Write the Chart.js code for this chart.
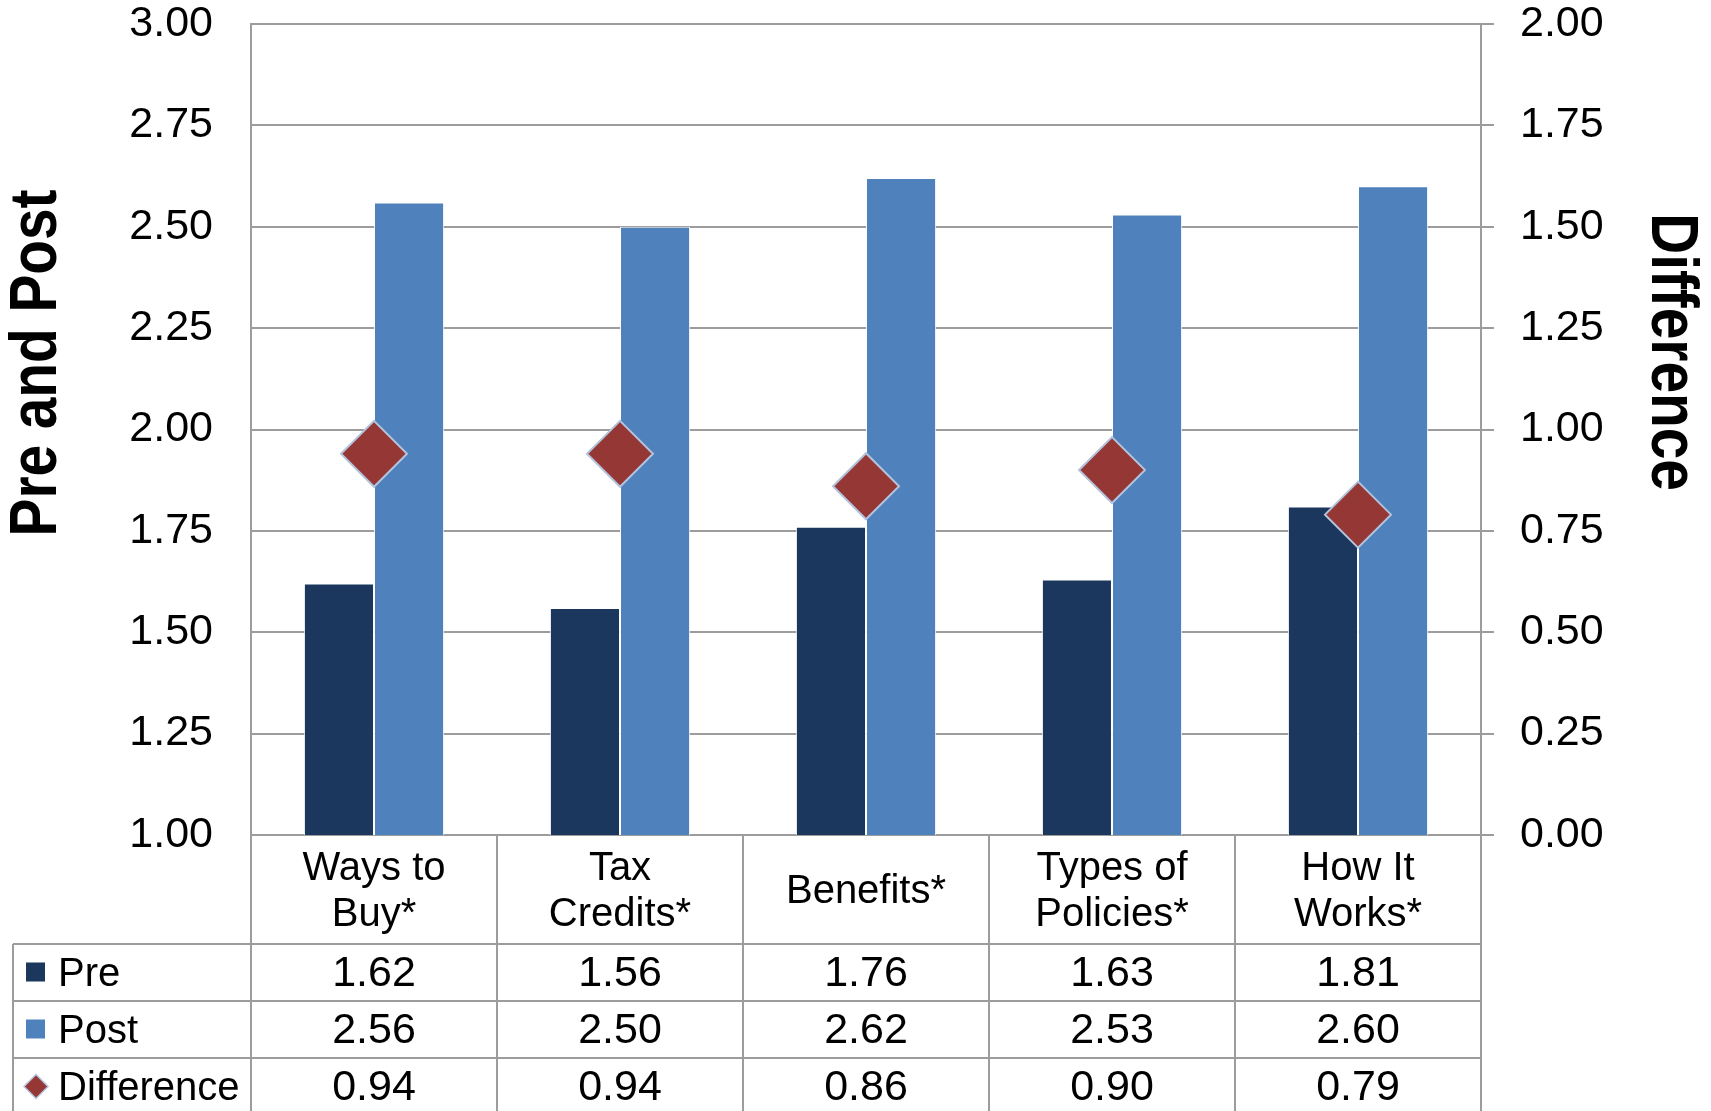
<!DOCTYPE html>
<html>
<head>
<meta charset="utf-8">
<script src="https://cdn.jsdelivr.net/npm/chart.js@4/dist/chart.umd.min.js"></script>
<style>
  html, body { margin: 0; padding: 0; background: #fff; }
  #wrap { width: 1711px; height: 1111px; }
</style>
</head>
<body>
<div id="wrap"><canvas id="chart" width="1711" height="1111"></canvas></div>
<script>
// Data
const categories = [['Ways to', 'Buy*'], ['Tax', 'Credits*'], ['Benefits*'], ['Types of', 'Policies*'], ['How It', 'Works*']];
const preValues = [1.62, 1.56, 1.76, 1.63, 1.81];
const postValues = [2.56, 2.50, 2.62, 2.53, 2.60];
const diffValues = [0.94, 0.94, 0.86, 0.90, 0.79];
const leftAxisTitle = 'Pre and Post';
const rightAxisTitle = 'Difference';

// Colours
const colors = {
    pre: '#1b375e',
    post: '#4f81bd',
    diff: '#953735',
    diffBorder: '#b3c3dc',
    grid: '#9c9c9c',
    text: '#000000'
};

const fontFamily = "'Liberation Sans', Arial, sans-serif";
const labelSize = 43;
const wordSize = 40;

// Rows shown in the data table under the chart
const tableRows = [
    { label: 'Pre', values: preValues, marker: 'square', color: colors.pre },
    { label: 'Post', values: postValues, marker: 'square', color: colors.post },
    { label: 'Difference', values: diffValues, marker: 'diamond', color: colors.diff }
];

// rotated, slightly narrowed axis title
function drawAxisTitle(ctx, text, x, y, angle) {
    ctx.save();
    ctx.translate(x, y);
    ctx.rotate(angle);
    ctx.scale(0.86, 1);
    ctx.fillText(text, 0, 0);
    ctx.restore();
}

// Draws axis titles and the Excel-style data table
const tablePlugin = {
    id: 'dataTable',
    afterDraw(chart) {
        const ctx = chart.ctx;
        const area = chart.chartArea;
        const xScale = chart.scales.x;
        const n = categories.length;
        const colW = (area.right - area.left) / n;
        const rowY = [area.bottom, 944, 1001, 1058, chart.height + 4];
        const labelLeft = 13;

        ctx.save();
        ctx.strokeStyle = colors.grid;
        ctx.lineWidth = 2;

        // horizontal lines
        ctx.beginPath();
        for (let r = 1; r < rowY.length - 1; r++) {
            ctx.moveTo(labelLeft, rowY[r]);
            ctx.lineTo(area.right, rowY[r]);
        }
        // vertical lines
        for (let i = 0; i <= n; i++) {
            const x = area.left + i * colW;
            ctx.moveTo(x, rowY[0]);
            ctx.lineTo(x, chart.height);
        }
        ctx.moveTo(labelLeft, rowY[1]);
        ctx.lineTo(labelLeft, chart.height);
        ctx.stroke();

        ctx.fillStyle = colors.text;
        ctx.font = wordSize + 'px ' + fontFamily;
        ctx.textAlign = 'center';
        ctx.textBaseline = 'middle';

        // category labels
        const catMid = (rowY[0] + rowY[1]) / 2;
        const lineH = 46;
        categories.forEach((lines, i) => {
            const cx = xScale.getPixelForValue(i);
            const y0 = catMid - (lines.length - 1) * lineH / 2;
            lines.forEach((t, k) => ctx.fillText(t, cx, y0 + k * lineH + 2));
        });

        // series rows
        tableRows.forEach((row, r) => {
            const mid = (rowY[r + 1] + rowY[r + 2]) / 2;
            ctx.fillStyle = colors.text;
            ctx.textAlign = 'center';
            ctx.font = labelSize + 'px ' + fontFamily;
            row.values.forEach((v, i) => {
                ctx.fillText(v.toFixed(2), xScale.getPixelForValue(i), mid + 2);
            });
            ctx.textAlign = 'left';
            ctx.font = wordSize + 'px ' + fontFamily;
            ctx.fillText(row.label, 58, mid + 2);
            // legend key
            ctx.fillStyle = row.color;
            if (row.marker === 'square') {
                ctx.fillRect(26, mid - 10, 19, 19);
            } else {
                ctx.beginPath();
                ctx.moveTo(36, mid - 12);
                ctx.lineTo(48, mid);
                ctx.lineTo(36, mid + 12);
                ctx.lineTo(24, mid);
                ctx.closePath();
                ctx.fill();
                ctx.strokeStyle = colors.diffBorder;
                ctx.lineWidth = 1.5;
                ctx.stroke();
            }
        });

        // axis titles
        ctx.fillStyle = colors.text;
        ctx.font = 'bold 66px ' + fontFamily;
        ctx.textAlign = 'center';
        ctx.textBaseline = 'middle';
        drawAxisTitle(ctx, leftAxisTitle, 38, 363, -Math.PI / 2);
        drawAxisTitle(ctx, rightAxisTitle, 1670, 352, Math.PI / 2);

        ctx.restore();
    }
};

// fix the axis box so the plot area lines up with the reference
function fitAxis(width) {
    return function(scale) {
        scale.width = width;
        scale.paddingTop = 0;
        scale.paddingBottom = 0;
    };
}

const ctx = document.getElementById('chart').getContext('2d');

new Chart(ctx, {
    type: 'bar',
    data: {
        labels: categories,
        datasets: [{
            type: 'line',
            label: 'Difference',
            data: diffValues,
            yAxisID: 'y1',
            showLine: false,
            pointStyle: 'rectRot',
            pointRadius: 33,
            pointHoverRadius: 33,
            pointBackgroundColor: colors.diff,
            pointBorderColor: colors.diffBorder,
            pointBorderWidth: 2,
            order: 0
        }, {
            label: 'Pre',
            data: preValues,
            yAxisID: 'y',
            backgroundColor: colors.pre,
            borderColor: 'rgba(255, 255, 255, 0.9)',
            borderWidth: 1,
            categoryPercentage: 0.57,
            barPercentage: 1.0,
            order: 1
        }, {
            label: 'Post',
            data: postValues,
            yAxisID: 'y',
            backgroundColor: colors.post,
            borderColor: 'rgba(255, 255, 255, 0.9)',
            borderWidth: 1,
            categoryPercentage: 0.57,
            barPercentage: 1.0,
            order: 1
        }]
    },
    options: {
        responsive: false,
        animation: false,
        layout: {
            autoPadding: false,
            padding: { top: 24, bottom: 276, left: 0, right: 0 }
        },
        plugins: {
            legend: { display: false },
            tooltip: { enabled: false }
        },
        scales: {
            x: {
                display: false,
                offset: true
            },
            y: {
                position: 'left',
                min: 1,
                max: 3,
                afterFit: fitAxis(251),
                ticks: {
                    stepSize: 0.25,
                    padding: 38,
                    color: colors.text,
                    font: { family: fontFamily, size: labelSize },
                    callback: function(value) { return value.toFixed(2); }
                },
                grid: {
                    color: colors.grid,
                    lineWidth: 2,
                    drawTicks: false
                },
                border: { display: true, color: colors.grid, width: 2 }
            },
            y1: {
                position: 'right',
                min: 0,
                max: 2,
                afterFit: fitAxis(230),
                ticks: {
                    stepSize: 0.25,
                    padding: 26,
                    color: colors.text,
                    font: { family: fontFamily, size: labelSize },
                    callback: function(value) { return value.toFixed(2); }
                },
                grid: {
                    drawOnChartArea: false,
                    drawTicks: true,
                    tickLength: 13,
                    color: colors.grid,
                    lineWidth: 2
                },
                border: { display: true, color: colors.grid, width: 2 }
            }
        }
    },
    plugins: [tablePlugin]
});
</script>
</body>
</html>
